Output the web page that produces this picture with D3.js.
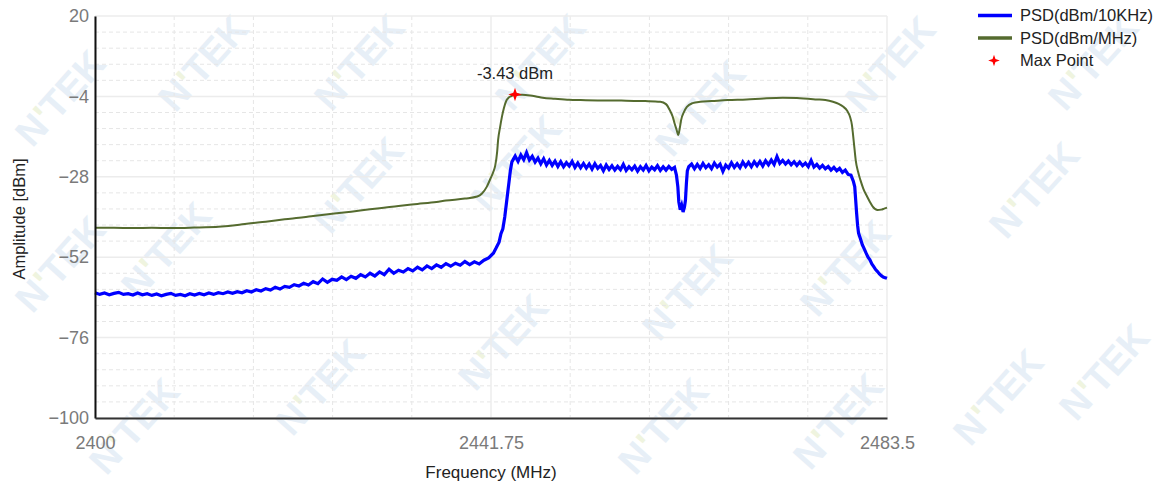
<!DOCTYPE html>
<html>
<head>
<meta charset="utf-8">
<script src="https://cdn.jsdelivr.net/npm/d3@7"></script>
<style>
  html, body { margin: 0; padding: 0; background: #ffffff; }
  svg { display: block; font-family: "Liberation Sans", Arial, sans-serif; }
</style>
</head>
<body>
<svg id="chart" width="1167" height="489"></svg>
<script>
// ---------------- data ----------------
const xTickLabels = [2400, 2441.75, 2483.5];
const yTickLabels = [20, -4, -28, -52, -76, -100];
const seriesNames = ["PSD(dBm/10KHz)", "PSD(dBm/MHz)", "Max Point"];
const maxPoint = [2444.28, -3.43];
const maxLabel = "-3.43 dBm";

// PSD (dBm/10KHz) — [frequency MHz, level dBm]
const psd10k = [
  [2400.0,-62.6],[2400.5,-63.1],[2401.0,-62.7],[2401.5,-63.2],[2402.0,-62.8],[2402.5,-62.5],
  [2403.0,-63.1],[2403.5,-62.9],[2404.0,-63.3],[2404.5,-62.7],[2405.0,-63.2],[2405.5,-62.9],
  [2406.0,-63.4],[2406.5,-63.0],[2407.0,-63.5],[2407.5,-63.1],[2408.0,-62.8],[2408.5,-63.4],
  [2409.0,-63.1],[2409.5,-63.5],[2410.0,-62.9],[2410.5,-63.3],[2411.0,-62.8],[2411.5,-63.2],
  [2412.0,-62.7],[2412.5,-63.1],[2413.0,-62.6],[2413.5,-62.9],[2414.0,-62.4],[2414.5,-62.8],
  [2415.0,-62.3],[2415.5,-62.6],[2416.0,-62.0],[2416.5,-62.4],[2417.0,-61.7],[2417.5,-62.1],
  [2418.0,-61.4],[2418.5,-61.8],[2419.0,-61.0],[2419.5,-61.5],[2420.0,-60.7],[2420.5,-61.0],
  [2421.0,-60.2],[2421.5,-60.6],[2422.0,-59.8],[2422.5,-60.3],[2423.0,-59.3],[2423.5,-59.9],
  [2424.0,-58.5],[2424.5,-59.5],[2425.0,-58.6],[2425.5,-58.9],[2426.0,-57.9],[2426.5,-58.7],
  [2427.0,-57.7],[2427.5,-58.3],[2428.0,-57.2],[2428.5,-57.9],[2429.0,-56.8],[2429.5,-57.6],
  [2430.0,-56.4],[2430.5,-57.2],[2431.0,-55.6],[2431.5,-56.8],[2432.0,-55.9],[2432.5,-56.4],
  [2433.0,-55.4],[2433.5,-56.1],[2434.0,-55.0],[2434.5,-55.8],[2435.0,-54.6],[2435.5,-55.4],
  [2436.0,-54.3],[2436.5,-55.0],[2437.0,-53.9],[2437.5,-54.7],[2438.0,-53.8],[2438.5,-54.4],
  [2439.0,-53.3],[2439.5,-54.2],[2440.0,-53.4],[2440.5,-54.0],[2441.0,-52.9],[2441.5,-52.2],
  [2442.0,-50.8],[2442.3,-49.2],[2442.6,-47.5],[2442.8,-45.0],[2443.0,-43.5],[2443.2,-40.0],
  [2443.35,-36.5],[2443.5,-33.0],[2443.65,-29.5],[2443.8,-26.0],[2443.95,-23.6],[2444.1,-22.8],
  [2444.3,-21.8],[2444.6,-23.4],[2444.9,-21.5],[2445.2,-22.9],[2445.5,-20.8],[2445.8,-23.0],
  [2446.1,-21.9],[2446.4,-23.6],[2446.7,-22.4],[2447.0,-24.1],[2447.3,-22.6],[2447.6,-24.5],
  [2447.9,-23.1],[2448.2,-24.6],[2448.5,-23.3],[2448.8,-24.9],[2449.1,-23.5],[2449.4,-25.0],
  [2449.7,-23.8],[2450.0,-24.8],[2450.3,-23.4],[2450.6,-25.2],[2450.9,-23.9],[2451.2,-25.3],
  [2451.5,-24.0],[2451.8,-25.4],[2452.1,-24.2],[2452.4,-25.7],[2452.7,-24.1],[2453.0,-25.5],
  [2453.3,-24.6],[2453.6,-26.2],[2453.9,-24.5],[2454.2,-25.8],[2454.5,-24.7],[2454.8,-26.0],
  [2455.1,-24.9],[2455.4,-25.9],[2455.7,-24.3],[2456.0,-26.1],[2456.3,-25.0],[2456.6,-25.9],
  [2456.9,-24.8],[2457.2,-26.3],[2457.5,-25.0],[2457.8,-26.0],[2458.1,-24.6],[2458.4,-26.2],
  [2458.7,-25.1],[2459.0,-25.9],[2459.3,-24.7],[2459.6,-26.1],[2459.9,-25.0],[2460.2,-26.0],
  [2460.5,-24.9],[2460.8,-25.8],[2461.1,-25.2],[2461.3,-27.5],[2461.45,-31.0],[2461.55,-35.5],
  [2461.7,-37.8],[2461.85,-36.5],[2462.0,-38.5],[2462.15,-37.0],[2462.25,-35.0],[2462.35,-30.0],
  [2462.45,-26.2],[2462.6,-25.0],[2462.9,-24.2],[2463.2,-25.6],[2463.5,-24.3],[2463.8,-25.5],
  [2464.1,-24.0],[2464.4,-25.3],[2464.7,-24.4],[2465.0,-25.6],[2465.3,-23.9],[2465.6,-25.1],
  [2465.9,-24.2],[2466.2,-26.4],[2466.5,-24.5],[2466.8,-25.4],[2467.1,-23.8],[2467.4,-25.2],
  [2467.7,-24.1],[2468.0,-25.3],[2468.3,-23.6],[2468.6,-24.9],[2468.9,-23.7],[2469.2,-25.0],
  [2469.5,-23.5],[2469.8,-24.7],[2470.1,-23.4],[2470.4,-24.8],[2470.7,-23.2],[2471.0,-24.4],
  [2471.3,-23.0],[2471.6,-24.3],[2471.9,-22.0],[2472.2,-24.0],[2472.5,-23.1],[2472.8,-24.2],
  [2473.1,-23.3],[2473.4,-24.4],[2473.7,-23.5],[2474.0,-24.6],[2474.3,-23.6],[2474.6,-24.7],
  [2474.9,-23.9],[2475.2,-25.0],[2475.5,-23.1],[2475.8,-25.1],[2476.1,-24.3],[2476.4,-25.4],
  [2476.7,-24.6],[2477.0,-25.6],[2477.3,-24.9],[2477.6,-26.0],[2477.9,-25.2],[2478.2,-26.2],
  [2478.5,-25.5],[2478.8,-26.7],[2479.1,-26.0],[2479.4,-27.3],[2479.7,-27.5],[2479.95,-29.3],
  [2480.1,-31.0],[2480.2,-35.0],[2480.3,-39.0],[2480.4,-42.5],[2480.5,-44.8],[2480.7,-46.5],
  [2480.9,-48.3],[2481.1,-49.5],[2481.3,-50.8],[2481.5,-52.0],[2481.7,-52.8],[2481.9,-54.0],
  [2482.1,-54.8],[2482.3,-55.7],[2482.5,-56.3],[2482.7,-57.0],[2482.9,-57.5],[2483.1,-57.9],
  [2483.3,-58.1],[2483.5,-58.3]
];

// PSD (dBm/MHz) — [frequency MHz, level dBm]
const psd1m = [
  [2400.0,-43.2],[2402.0,-43.2],[2404.0,-43.3],[2406.0,-43.2],[2408.0,-43.3],[2410.0,-43.2],
  [2411.0,-43.1],[2413.0,-42.9],[2415.0,-42.4],[2416.0,-42.0],[2418.0,-41.4],[2420.0,-40.7],
  [2422.0,-40.1],[2423.0,-39.7],[2425.0,-39.0],[2427.0,-38.4],[2429.0,-37.7],[2430.0,-37.4],
  [2432.0,-36.7],[2434.0,-36.1],[2436.0,-35.5],[2437.0,-35.1],[2439.0,-34.5],[2440.3,-33.9],
  [2440.8,-33.0],[2441.3,-31.0],[2441.7,-28.5],[2442.0,-26.5],[2442.2,-24.6],[2442.4,-20.5],
  [2442.5,-17.0],[2442.7,-13.3],[2442.9,-10.1],[2443.1,-7.6],[2443.4,-5.1],[2443.6,-4.4],
  [2443.9,-3.9],[2444.28,-3.43],[2444.8,-3.5],[2445.4,-3.55],[2445.9,-3.7],[2446.5,-4.0],
  [2447.2,-4.4],[2448.5,-4.7],[2450.0,-5.0],[2451.1,-5.1],[2453.0,-5.2],[2454.6,-5.2],
  [2456.0,-5.3],[2458.0,-5.4],[2459.6,-5.6],[2460.2,-6.3],[2460.6,-8.1],[2460.9,-10.0],
  [2461.1,-12.0],[2461.3,-13.8],[2461.5,-15.5],[2461.65,-13.5],[2461.8,-11.0],[2462.1,-8.6],
  [2462.4,-7.1],[2463.0,-6.0],[2463.8,-5.6],[2465.0,-5.4],[2466.7,-5.1],[2468.7,-4.9],
  [2470.5,-4.6],[2472.5,-4.4],[2474.0,-4.5],[2476.1,-4.9],[2477.0,-5.1],[2477.8,-5.6],
  [2478.4,-6.2],[2478.9,-7.1],[2479.3,-8.3],[2479.6,-10.1],[2479.8,-12.5],[2479.9,-14.9],
  [2480.05,-19.0],[2480.2,-23.0],[2480.45,-26.5],[2480.7,-29.0],[2481.0,-31.5],[2481.4,-33.9],
  [2481.7,-35.5],[2482.0,-36.9],[2482.5,-37.9],[2482.9,-37.8],[2483.2,-37.5],[2483.5,-37.2]
];

// ---------------- drawing ----------------
const svg = d3.select("#chart");
const W = 1167, H = 489;
const margin = { left: 95, right: 280, top: 16, bottom: 71 };
const x = d3.scaleLinear().domain([2400, 2483.5]).range([margin.left, W - margin.right]);
const y = d3.scaleLinear().domain([-100, 20]).range([H - margin.bottom, margin.top]);
const [x0, x1] = x.range();
const [y0, y1] = y.range(); // y0 bottom, y1 top

const FONT = '"Liberation Sans", Arial, sans-serif';
const BLUE = "#0000ff", GREEN = "#556b2f", RED = "#ff0000";

// watermark (decorative), kept fully inside the canvas
const wmPos = [[60,98],[203,63],[359,62],[540,62],[358,185],[516,163],[166,250],[60,264],
  [320,387],[503,342],[134,426],[700,108],[890,64],[1034,190],[1093,62],[845,268],
  [687,292],[998,397],[838,421],[1104,372],[663,426]];
const wm = svg.append("g").attr("class", "watermark");
wmPos.forEach(([cx, cy]) => {
  const t = wm.append("text")
    .attr("transform", `translate(${cx},${cy}) rotate(-48)`)
    .attr("text-anchor", "middle").attr("dy", "0.35em")
    .attr("font-family", FONT).attr("font-weight", "bold").attr("font-size", 38)
    .attr("fill", "#e7eff7");
  t.append("tspan").text("N");
  t.append("tspan").attr("fill", "#eff4df").text("'");
  t.append("tspan").text("TEK");
});

// grid
const grid = svg.append("g").attr("class", "grid");
const yMinor = d3.range(-100, 20.001, 4.8).filter(v => !yTickLabels.some(t => Math.abs(t - v) < 1e-6));
grid.selectAll(".ymin").data(yMinor).join("line")
  .attr("x1", x0).attr("x2", x1).attr("y1", d => y(d)).attr("y2", d => y(d))
  .attr("stroke", "#e6e6e6").attr("stroke-width", 1).attr("stroke-dasharray", "4,3");
const xGrid = d3.range(0, 11).map(i => 2400 + i * 8.35);
const xMinor = xGrid.filter(v => !xTickLabels.some(t => Math.abs(t - v) < 1e-6));
grid.selectAll(".xmin").data(xMinor).join("line")
  .attr("x1", d => x(d)).attr("x2", d => x(d)).attr("y1", y1).attr("y2", y0)
  .attr("stroke", "#e6e6e6").attr("stroke-width", 1).attr("stroke-dasharray", "4,3");
grid.selectAll(".ymaj").data(yTickLabels).join("line")
  .attr("x1", x0).attr("x2", x1).attr("y1", d => y(d)).attr("y2", d => y(d))
  .attr("stroke", "#ececec").attr("stroke-width", 1.5);
grid.selectAll(".xmaj").data(xTickLabels).join("line")
  .attr("x1", d => x(d)).attr("x2", d => x(d)).attr("y1", y1).attr("y2", y0)
  .attr("stroke", "#ececec").attr("stroke-width", 1.5);

// series
svg.append("path").datum(psd1m)
  .attr("d", d3.line().x(d => x(d[0])).y(d => y(d[1])).curve(d3.curveMonotoneX))
  .attr("fill", "none").attr("stroke", GREEN).attr("stroke-width", 2).attr("stroke-linejoin", "round");
svg.append("path").datum(psd10k)
  .attr("d", d3.line().x(d => x(d[0])).y(d => y(d[1])))
  .attr("fill", "none").attr("stroke", BLUE).attr("stroke-width", 3.2).attr("stroke-linejoin", "miter");

// axes
const yAxis = svg.append("g").attr("transform", `translate(${x0},0)`)
  .call(d3.axisLeft(y).tickValues(yTickLabels).tickSize(0).tickPadding(6).tickFormat(d3.format("d")));
yAxis.select(".domain").attr("stroke", "#111").attr("stroke-width", 2);
yAxis.selectAll("text").attr("font-family", FONT).attr("font-size", 18).attr("fill", "#7a7a7a");

const xAxis = svg.append("g").attr("transform", `translate(0,${y0})`)
  .call(d3.axisBottom(x).tickValues(xTickLabels).tickSize(0).tickPadding(18).tickFormat(d => String(d)));
xAxis.select(".domain").attr("stroke", "#333").attr("stroke-width", 2);
xAxis.selectAll("text").attr("font-family", FONT).attr("font-size", 18).attr("fill", "#7a7a7a");

// axis titles
svg.append("text").attr("x", (x0 + x1) / 2).attr("y", 478).attr("text-anchor", "middle")
  .attr("font-family", FONT).attr("font-size", 17).attr("fill", "#222").text("Frequency (MHz)");
svg.append("text").attr("transform", `translate(25,${(y0 + y1) / 2 + 2}) rotate(-90)`)
  .attr("text-anchor", "middle").attr("font-family", FONT).attr("font-size", 16.5)
  .attr("fill", "#222").text("Amplitude [dBm]");

// 4-point star symbol
const star4 = {
  draw(ctx, size) {
    const r = Math.sqrt(size) * 0.75, ri = r * 0.35;
    for (let i = 0; i < 8; i++) {
      const a = -Math.PI / 2 + i * Math.PI / 4;
      const rr = i % 2 === 0 ? r : ri;
      const px = rr * Math.cos(a), py = rr * Math.sin(a);
      if (i === 0) ctx.moveTo(px, py); else ctx.lineTo(px, py);
    }
    ctx.closePath();
  }
};

// max point
svg.append("path").attr("d", d3.symbol().type(star4).size(80)())
  .attr("transform", `translate(${x(maxPoint[0])},${y(maxPoint[1])})`).attr("fill", RED);
svg.append("text").attr("x", x(maxPoint[0])).attr("y", y(maxPoint[1]) - 15)
  .attr("text-anchor", "middle").attr("font-family", FONT).attr("font-size", 16.5)
  .attr("fill", "#222").text(maxLabel);

// legend
const lg = svg.append("g").attr("transform", "translate(978,0)");
const rowsY = [15.5, 38, 60.5];
[BLUE, GREEN].forEach((c, i) => {
  lg.append("line").attr("x1", 0).attr("x2", 34).attr("y1", rowsY[i]).attr("y2", rowsY[i])
    .attr("stroke", c).attr("stroke-width", 3.5);
});
lg.append("path").attr("d", d3.symbol().type(star4).size(60)())
  .attr("transform", `translate(16,${rowsY[2]})`).attr("fill", RED);
seriesNames.forEach((n, i) => {
  lg.append("text").attr("x", 42).attr("y", rowsY[i]).attr("dy", "0.36em")
    .attr("font-family", FONT).attr("font-size", 16.5).attr("fill", "#222").text(n);
});
</script>
</body>
</html>
